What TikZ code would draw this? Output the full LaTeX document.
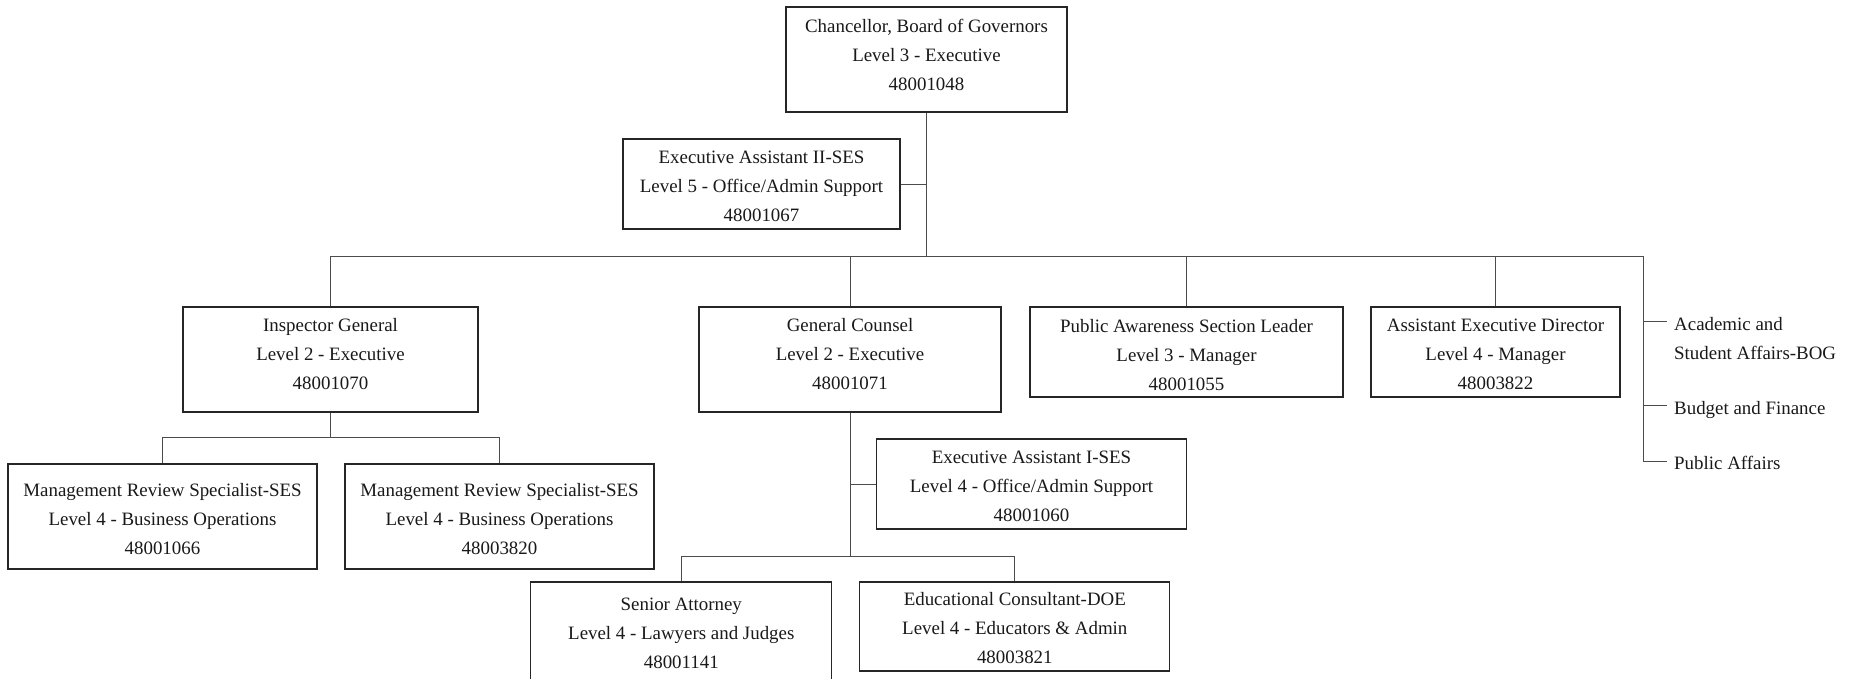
\documentclass[tikz,border=0pt]{standalone}
\usepackage{fontspec}
\setmainfont{Liberation Serif}
\begin{document}
\begin{tikzpicture}[x=1pt,y=-1pt,
  box/.style={draw=black!85, line width=1.1pt, inner sep=0pt, fill=white},
  lbl/.style={anchor=north, align=center, inner sep=0pt, text=black!90,
              font=\fontsize{18.9}{29}\selectfont},
  side/.style={anchor=north west, align=left, inner sep=0pt, text=black!90,
               font=\fontsize{18.9}{29}\selectfont},
  link/.style={draw=black!70, line width=1pt}]
\useasboundingbox (0,0) rectangle (1860,678);
\clip (0,0) rectangle (1860,678);

% position boxes
\node[box, minimum width=281pt, minimum height=105pt] (chan) at (926.5,59.5) {};
\node[box, minimum width=277pt, minimum height=90pt]  (ea2)  at (761.5,184) {};
\node[box, minimum width=295pt, minimum height=105pt] (ig)   at (330.5,359.5) {};
\node[box, minimum width=302pt, minimum height=105pt] (gc)   at (850,359.5) {};
\node[box, minimum width=313pt, minimum height=90pt]  (pa)   at (1186.5,352) {};
\node[box, minimum width=249pt, minimum height=90pt]  (aed)  at (1495.5,352) {};
\node[box, minimum width=309pt, minimum height=105pt] (mrs1) at (162.5,516.5) {};
\node[box, minimum width=309pt, minimum height=105pt] (mrs2) at (499.5,516.5) {};
\node[box, minimum width=310pt, minimum height=90pt]  (ea1)  at (1031.5,484) {};
\node[box, minimum width=301pt, minimum height=105pt] (sa)   at (681.3,634.5) {};
\node[box, minimum width=310pt, minimum height=89pt]  (ec)   at (1014.8,626.5) {};

% titles
\node[lbl] (chan-t) at ([yshift=-12.5pt]chan.north) {Chancellor, Board of Governors\\Level 3 - Executive\\48001048};
\node[lbl] (ea2-t)  at ([yshift=-12.5pt]ea2.north)  {Executive Assistant II-SES\\Level 5 - Office/Admin Support\\48001067};
\node[lbl] (ig-t)   at ([yshift=-11.5pt]ig.north)   {Inspector General\\Level 2 - Executive\\48001070};
\node[lbl] (gc-t)   at ([yshift=-11.5pt]gc.north)   {General Counsel\\Level 2 - Executive\\48001071};
\node[lbl] (pa-t)   at ([yshift=-12.5pt]pa.north)   {Public Awareness Section Leader\\Level 3 - Manager\\48001055};
\node[lbl] (aed-t)  at ([yshift=-12.5pt]aed.north)  {Assistant Executive Director\\Level 4 - Manager\\48003822};
\node[lbl] (mrs1-t) at ([yshift=-19.5pt]mrs1.north) {Management Review Specialist-SES\\Level 4 - Business Operations\\48001066};
\node[lbl] (mrs2-t) at ([yshift=-19.5pt]mrs2.north) {Management Review Specialist-SES\\Level 4 - Business Operations\\48003820};
\node[lbl] (ea1-t)  at ([yshift=-12.5pt]ea1.north)  {Executive Assistant I-SES\\Level 4 - Office/Admin Support\\48001060};
\node[lbl] (sa-t)   at ([yshift=-16.5pt]sa.north)   {Senior Attorney\\Level 4 - Lawyers and Judges\\48001141};
\node[lbl] (ec-t)   at ([yshift=-10.5pt]ec.north)   {Educational Consultant-DOE\\Level 4 - Educators \& Admin\\48003821};

% side units
\node[side] (acad) at (1674,317) {Academic and\\Student Affairs-BOG};
\node[side] (bud)  at (1674,401.5) {Budget and Finance};
\node[side] (pub)  at (1674,456) {Public Affairs};

% bus coordinates
\coordinate (bus)  at (0,256);
\coordinate (busR) at (1643,256);
\coordinate (igbus) at (0,437);
\coordinate (gcbus) at (0,556);
\coordinate (r1) at (1643,321);
\coordinate (r2) at (1643,405);
\coordinate (r3) at (1643,461);

% top level
\draw[link] (chan.south) -- (chan.south |- bus);
\draw[link] (ea2.east) -- (ea2.east -| chan.south);
\draw[link] (ig.north |- bus) -- (busR);
\draw[link] (ig.north) -- (ig.north |- bus);
\draw[link] (gc.north) -- (gc.north |- bus);
\draw[link] (pa.north) -- (pa.north |- bus);
\draw[link] (aed.north) -- (aed.north |- bus);
\draw[link] (busR) -- (r3);
\draw[link, shorten >=7pt] (r1) -- (r1 -| acad.west);
\draw[link, shorten >=7pt] (r2) -- (r2 -| bud.west);
\draw[link, shorten >=7pt] (r3) -- (r3 -| pub.west);

% inspector general branch
\draw[link] (ig.south) -- (ig.south |- igbus);
\draw[link] (mrs1.north |- igbus) -- (mrs2.north |- igbus);
\draw[link] (mrs1.north) -- (mrs1.north |- igbus);
\draw[link] (mrs2.north) -- (mrs2.north |- igbus);

% general counsel branch
\draw[link] (gc.south) -- (gc.south |- gcbus);
\draw[link] (ea1.west) -- (ea1.west -| gc.south);
\draw[link] (sa.north |- gcbus) -- (ec.north |- gcbus);
\draw[link] (sa.north) -- (sa.north |- gcbus);
\draw[link] (ec.north) -- (ec.north |- gcbus);
\end{tikzpicture}
\end{document}
